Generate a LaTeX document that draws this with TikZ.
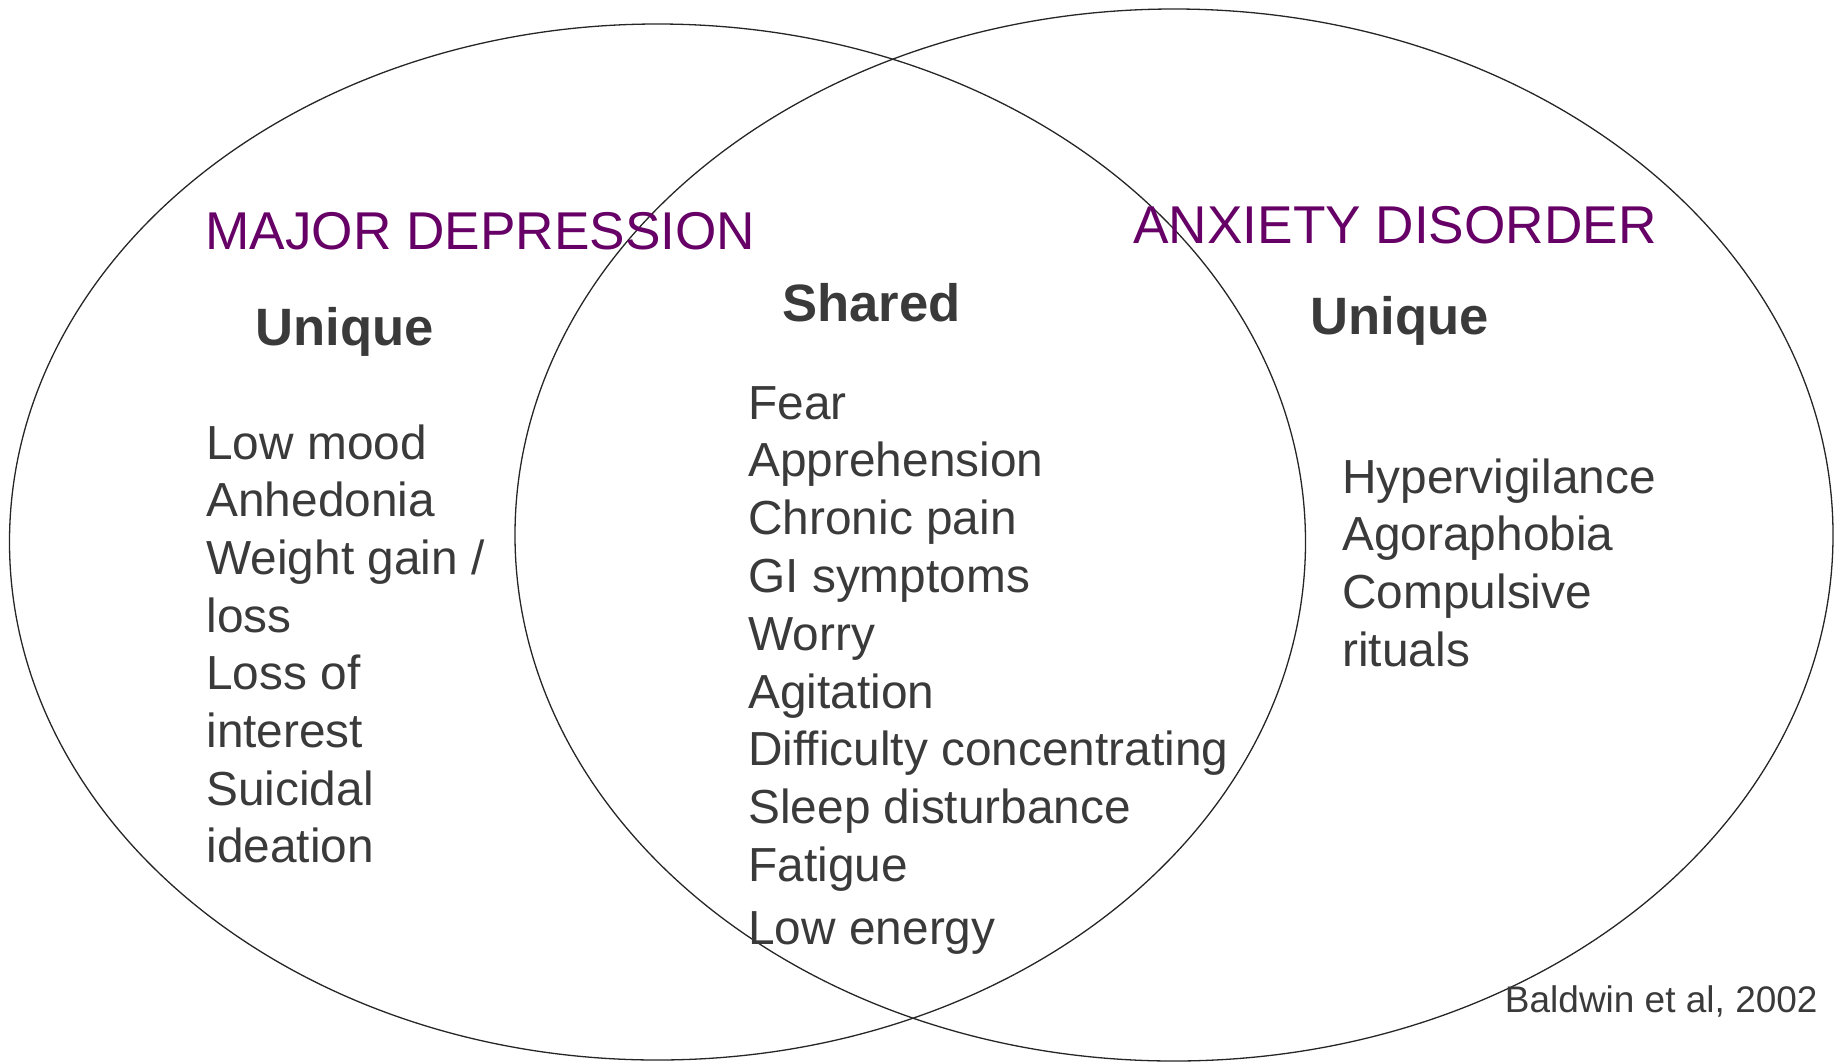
\documentclass[tikz,border=0pt]{standalone}
\usepackage{fontspec}
\setmainfont{Liberation Sans}
\definecolor{txtgray}{HTML}{3A3A3A}
\definecolor{plum}{HTML}{660066}
\tikzset{
  ring/.style={draw=black!85, line width=0.65pt},
  title/.style={text=plum, font=\fontsize{26.6}{30}\selectfont, anchor=base west, inner sep=0pt},
  head/.style={text=txtgray, font=\fontsize{26.3}{30}\selectfont\bfseries, anchor=base west, inner sep=0pt},
  item/.style={text=txtgray, font=\fontsize{23.9}{28}\selectfont, anchor=base west, inner sep=0pt},
  cite/.style={text=txtgray, font=\fontsize{18.5}{22}\selectfont, anchor=base east, inner sep=0pt}
}
\begin{document}
\begin{tikzpicture}[x=0.5pt, y=-0.5pt]
  \useasboundingbox (0,0) rectangle (1836,1061);
  % the two sets
  \draw[ring] (657.5,542) ellipse [x radius=324pt, y radius=259pt];
  \draw[ring] (1174,535) ellipse [x radius=329.5pt, y radius=263pt];
  % titles
  \node[title] (deptitle) at (205,249) {MAJOR DEPRESSION};
  \node[title] (anxtitle) at (1133,243.5) {ANXIETY DISORDER};
  \node[head] (depunique) at (255,345.5) {Unique};
  \node[head] (shared) at (782,321) {Shared};
  \node[head] (anxunique) at (1310,334) {Unique};
  % depression only
  \foreach \t [count=\i] in {Low mood, Anhedonia, Weight gain /, loss, Loss of, interest, Suicidal, ideation}
    \node[item] (dep\i) at (206,{459+57.7*(\i-1)}) {\t};
  % both
  \foreach \t [count=\i] in {Fear, Apprehension, Chronic pain, GI symptoms, Worry, Agitation, Difficulty concentrating, Sleep disturbance, Fatigue}
    \node[item] (shr\i) at (748,{419+57.8*(\i-1)}) {\t};
  \node[item] (shr10) at (748,944) {Low energy};
  % anxiety only
  \foreach \t [count=\i] in {Hypervigilance, Agoraphobia, Compulsive, rituals}
    \node[item] (anx\i) at (1342,{493+57.7*(\i-1)}) {\t};
  \node[cite] (source) at (1818,1012) {Baldwin et al, 2002};
\end{tikzpicture}
\end{document}
